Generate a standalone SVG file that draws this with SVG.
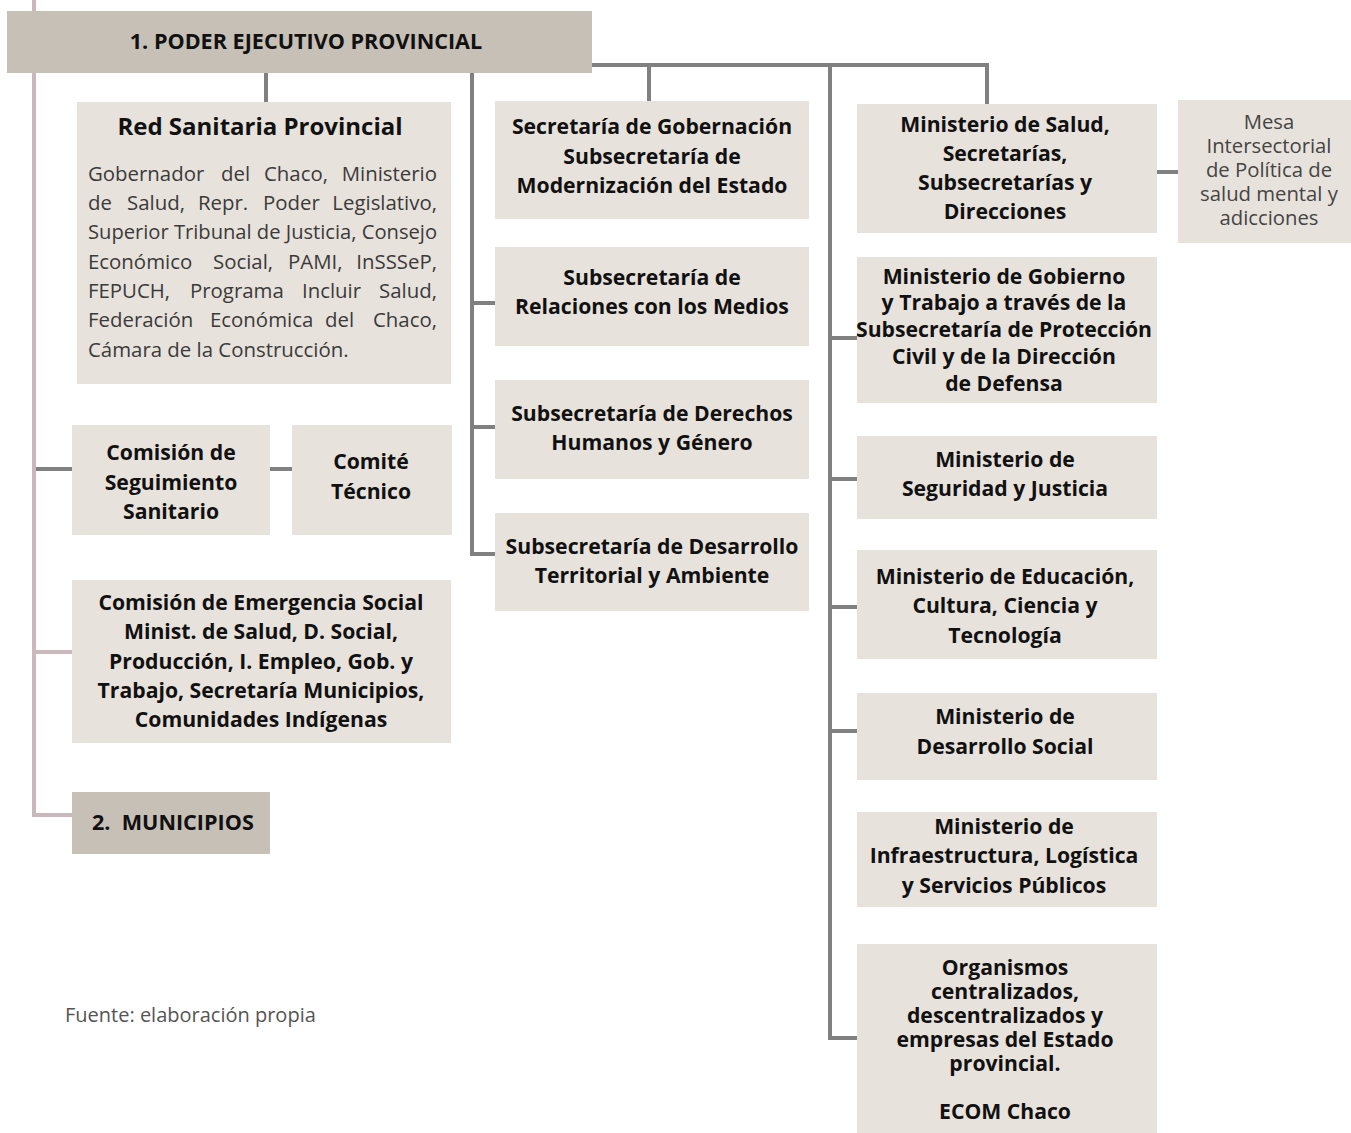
<svg xmlns="http://www.w3.org/2000/svg" width="1351" height="1133" viewBox="0 0 1351 1133">
<style>
.bx{fill:#e8e2dc}
.dk{fill:#c6c0b6}
.b{font-family:"Open Sans","Liberation Sans",sans-serif;font-weight:700;font-size:21.2px;fill:#111;text-anchor:middle}
.r{font-family:"Open Sans","Liberation Sans",sans-serif;font-weight:400;font-size:20.4px;fill:#3a3a3a}
.e{text-anchor:end}
.m{font-family:"Open Sans","Liberation Sans",sans-serif;font-weight:400;font-size:20.3px;fill:#444;text-anchor:middle}
.g{stroke:#808080;stroke-width:4;fill:none}
.p{stroke:#cbb8bc;stroke-width:4;fill:none}
</style>
<rect width="1351" height="1133" fill="#fff"/>
<g id="connectors">
<path class="p" d="M34,0 V815 H72 M34,652 H72"/>
<path class="g" d="M36,469 H72 M270,469 H292"/>
<path class="g" d="M266,73 V102"/>
<path class="g" d="M472,73 V554 H495 M472,303 H495 M472,427 H495"/>
<path class="g" d="M592,65 H987 V104 M649,65 V101"/>
<path class="g" d="M830,65 V1038 H857 M830,338 H857 M830,479 H857 M830,607 H857 M830,731 H857"/>
<path class="g" d="M1157,172 H1178"/>
</g>
<g id="n-poder"><rect class="dk" x="7" y="11" width="585" height="62"/><text class="b" x="306" y="49" style="font-size:21.6px">1. PODER EJECUTIVO PROVINCIAL</text></g>
<g id="n-red"><rect class="bx" x="77" y="102" width="374" height="282"/>
<text class="b" x="260" y="135" style="font-size:24px">Red Sanitaria Provincial</text>
<g class="r">
<text y="181" x="88">Gobernador</text><text y="181" x="221">del</text><text y="181" x="264">Chaco,</text><text y="181" x="437" class="e">Ministerio</text>
<text y="210" x="88">de</text><text y="210" x="127">Salud,</text><text y="210" x="198">Repr.</text><text y="210" x="263">Poder</text><text y="210" x="437" class="e">Legislativo,</text>
<text y="239" x="88" textLength="349" lengthAdjust="spacingAndGlyphs">Superior Tribunal de Justicia, Consejo</text>
<text y="269" x="88">Económico</text><text y="269" x="213">Social,</text><text y="269" x="288">PAMI,</text><text y="269" x="437" class="e">InSSSeP,</text>
<text y="298" x="88">FEPUCH,</text><text y="298" x="190">Programa</text><text y="298" x="302">Incluir</text><text y="298" x="437" class="e">Salud,</text>
<text y="327" x="88">Federación</text><text y="327" x="210">Económica</text><text y="327" x="325">del</text><text y="327" x="437" class="e">Chaco,</text>
<text y="357" x="88">Cámara de la Construcción.</text>
</g></g>
<g id="n-seguimiento"><rect class="bx" x="72" y="425" width="198" height="110"/><text class="b"><tspan x="171" y="460">Comisión de</tspan><tspan x="171" y="490">Seguimiento</tspan><tspan x="171" y="519">Sanitario</tspan></text></g>
<g id="n-comite"><rect class="bx" x="292" y="425" width="160" height="110"/><text class="b"><tspan x="371" y="469">Comité</tspan><tspan x="371" y="499">Técnico</tspan></text></g>
<g id="n-emergencia"><rect class="bx" x="72" y="580" width="379" height="163"/><text class="b"><tspan x="261" y="610">Comisión de Emergencia Social</tspan><tspan x="261" y="639">Minist. de Salud, D. Social,</tspan><tspan x="261" y="669">Producción, I. Empleo, Gob. y</tspan><tspan x="261" y="698">Trabajo, Secretaría Municipios,</tspan><tspan x="261" y="727">Comunidades Indígenas</tspan></text></g>
<g id="n-municipios"><rect class="dk" x="72" y="792" width="198" height="62"/><text class="b" x="92" y="830" style="text-anchor:start;font-size:21.6px" xml:space="preserve">2.  MUNICIPIOS</text></g>
<g id="n-gobernacion"><rect class="bx" x="495" y="101" width="314" height="118"/><text class="b"><tspan x="652" y="134">Secretaría de Gobernación</tspan><tspan x="652" y="164">Subsecretaría de</tspan><tspan x="652" y="193">Modernización del Estado</tspan></text></g>
<g id="n-medios"><rect class="bx" x="495" y="247" width="314" height="99"/><text class="b"><tspan x="652" y="285">Subsecretaría de</tspan><tspan x="652" y="314">Relaciones con los Medios</tspan></text></g>
<g id="n-ddhh"><rect class="bx" x="495" y="380" width="314" height="99"/><text class="b"><tspan x="652" y="421">Subsecretaría de Derechos</tspan><tspan x="652" y="450">Humanos y Género</tspan></text></g>
<g id="n-territorial"><rect class="bx" x="495" y="513" width="314" height="98"/><text class="b"><tspan x="652" y="554">Subsecretaría de Desarrollo</tspan><tspan x="652" y="583">Territorial y Ambiente</tspan></text></g>
<g id="n-salud"><rect class="bx" x="857" y="104" width="300" height="129"/><text class="b"><tspan x="1005" y="132">Ministerio de Salud,</tspan><tspan x="1005" y="161">Secretarías,</tspan><tspan x="1005" y="190">Subsecretarías y</tspan><tspan x="1005" y="219">Direcciones</tspan></text></g>
<g id="n-mesa"><rect class="bx" x="1178" y="100" width="173" height="143"/><text class="m"><tspan x="1269" y="129">Mesa</tspan><tspan x="1269" y="153">Intersectorial</tspan><tspan x="1269" y="177">de Política de</tspan><tspan x="1269" y="201">salud mental y</tspan><tspan x="1269" y="225">adicciones</tspan></text></g>
<g id="n-gobierno"><rect class="bx" x="857" y="257" width="300" height="146"/><text class="b"><tspan x="1004" y="284">Ministerio de Gobierno</tspan><tspan x="1004" y="310">y Trabajo a través de la</tspan><tspan x="1004" y="337">Subsecretaría de Protección</tspan><tspan x="1004" y="364">Civil y de la Dirección</tspan><tspan x="1004" y="391">de Defensa</tspan></text></g>
<g id="n-seguridad"><rect class="bx" x="857" y="436" width="300" height="83"/><text class="b"><tspan x="1005" y="467">Ministerio de</tspan><tspan x="1005" y="496">Seguridad y Justicia</tspan></text></g>
<g id="n-educacion"><rect class="bx" x="857" y="550" width="300" height="109"/><text class="b"><tspan x="1005" y="584">Ministerio de Educación,</tspan><tspan x="1005" y="613">Cultura, Ciencia y</tspan><tspan x="1005" y="643">Tecnología</tspan></text></g>
<g id="n-social"><rect class="bx" x="857" y="693" width="300" height="87"/><text class="b"><tspan x="1005" y="724">Ministerio de</tspan><tspan x="1005" y="754">Desarrollo Social</tspan></text></g>
<g id="n-infra"><rect class="bx" x="857" y="812" width="300" height="95"/><text class="b"><tspan x="1004" y="834">Ministerio de</tspan><tspan x="1004" y="863">Infraestructura, Logística</tspan><tspan x="1004" y="893">y Servicios Públicos</tspan></text></g>
<g id="n-organismos"><rect class="bx" x="857" y="944" width="300" height="189"/><text class="b"><tspan x="1005" y="975">Organismos</tspan><tspan x="1005" y="999">centralizados,</tspan><tspan x="1005" y="1023">descentralizados y</tspan><tspan x="1005" y="1047">empresas del Estado</tspan><tspan x="1005" y="1071">provincial.</tspan><tspan x="1005" y="1119">ECOM Chaco</tspan></text></g>
<text x="65" y="1022" style="font-family:'Open Sans','Liberation Sans',sans-serif;font-size:20px;fill:#555">Fuente: elaboración propia</text>
</svg>
